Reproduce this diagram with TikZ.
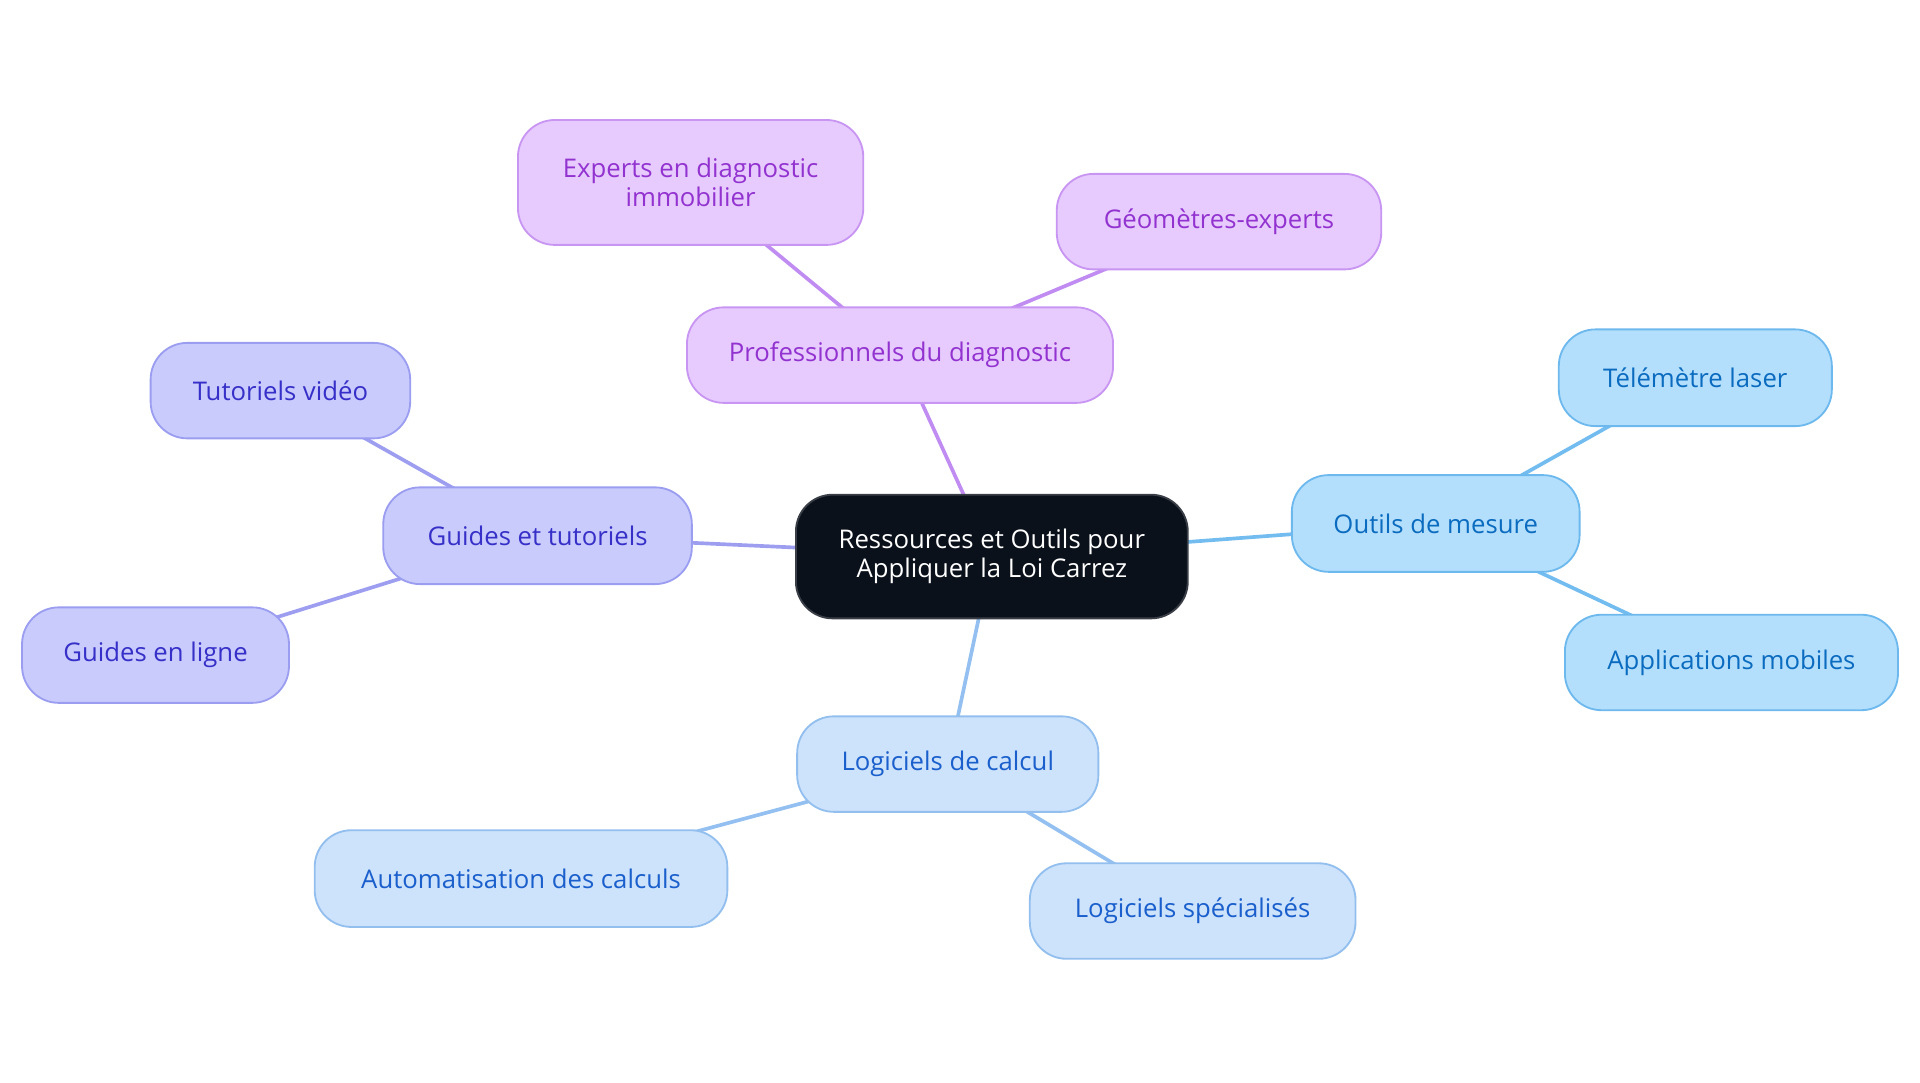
\documentclass[tikz,border=0pt]{standalone}
\usepackage{fontspec}
\setmainfont{Open Sans}
\usetikzlibrary{backgrounds}
\definecolor{cfill}{HTML}{0B111B}
\definecolor{cdraw}{HTML}{3A3F47}
\definecolor{pfill}{HTML}{E7CBFE}
\definecolor{pdraw}{HTML}{C896F2}
\definecolor{ptext}{HTML}{9233D0}
\definecolor{pline}{HTML}{C08CF2}
\definecolor{ofill}{HTML}{B3DFFD}
\definecolor{odraw}{HTML}{6DB9EE}
\definecolor{otext}{HTML}{0B6BBF}
\definecolor{oline}{HTML}{72BCEF}
\definecolor{lfill}{HTML}{CDE2FB}
\definecolor{ldraw}{HTML}{93BFEF}
\definecolor{ltext}{HTML}{1A5FCC}
\definecolor{lline}{HTML}{93C0F0}
\definecolor{gfill}{HTML}{C8CBFC}
\definecolor{gdraw}{HTML}{9A9DF0}
\definecolor{gtext}{HTML}{3730C8}
\definecolor{gline}{HTML}{9D9EF0}
\tikzset{
  box/.style={rectangle, rounded corners=30pt, line width=1.5pt, align=center,
    font=\fontsize{21}{24}\selectfont, inner sep=0pt},
  centre/.style={box, fill=cfill, draw=cdraw, text=white, rounded corners=30pt},
  pbox/.style={box, fill=pfill, draw=pdraw, text=ptext},
  obox/.style={box, fill=ofill, draw=odraw, text=otext},
  lbox/.style={box, fill=lfill, draw=ldraw, text=ltext},
  gbox/.style={box, fill=gfill, draw=gdraw, text=gtext},
  link/.style={line width=3pt},
}
\begin{document}
\begin{tikzpicture}[x=1pt,y=-1pt]
\useasboundingbox (0,0) rectangle (1568,884);
\node[centre, minimum width=320pt, minimum height=101pt] (c) at (810,454.5) {Ressources et Outils pour\\Appliquer la Loi Carrez};
\node[pbox, minimum width=348pt, minimum height=78pt] (prof) at (735,290) {Professionnels du diagnostic};
\node[pbox, minimum width=282pt, minimum height=102pt] (exp) at (564,149) {Experts en diagnostic\\immobilier};
\node[pbox, minimum width=265pt, minimum height=78pt] (geo) at (995.5,181) {Géomètres-experts};
\node[obox, minimum width=235pt, minimum height=79pt] (out) at (1172.5,427.5) {Outils de mesure};
\node[obox, minimum width=223pt, minimum height=79pt] (tel) at (1384.5,308.5) {Télémètre laser};
\node[obox, minimum width=272pt, minimum height=78pt] (app) at (1414,541) {Applications mobiles};
\node[lbox, minimum width=246pt, minimum height=78pt] (log) at (774,624) {Logiciels de calcul};
\node[lbox, minimum width=337pt, minimum height=79pt] (aut) at (425.5,717.5) {Automatisation des calculs};
\node[lbox, minimum width=266pt, minimum height=78pt] (spe) at (974,744) {Logiciels spécialisés};
\node[gbox, minimum width=252pt, minimum height=79pt] (gui) at (439,437.5) {Guides et tutoriels};
\node[gbox, minimum width=212pt, minimum height=78pt] (tut) at (229,319) {Tutoriels vidéo};
\node[gbox, minimum width=218pt, minimum height=78pt] (gel) at (127,535) {Guides en ligne};
\begin{pgfonlayer}{background}
\draw[link, pline] (c.center) -- (prof.center);
\draw[link, pline] (prof.center) -- (exp.center);
\draw[link, pline] (prof.center) -- (geo.center);
\draw[link, oline] (c.center) -- (out.center);
\draw[link, oline] (out.center) -- (tel.center);
\draw[link, oline] (out.center) -- (app.center);
\draw[link, lline] (c.center) -- (log.center);
\draw[link, lline] (log.center) -- (aut.center);
\draw[link, lline] (log.center) -- (spe.center);
\draw[link, gline] (c.center) -- (gui.center);
\draw[link, gline] (gui.center) -- (tut.center);
\draw[link, gline] (gui.center) -- (gel.center);
\end{pgfonlayer}
\end{tikzpicture}
\end{document}
